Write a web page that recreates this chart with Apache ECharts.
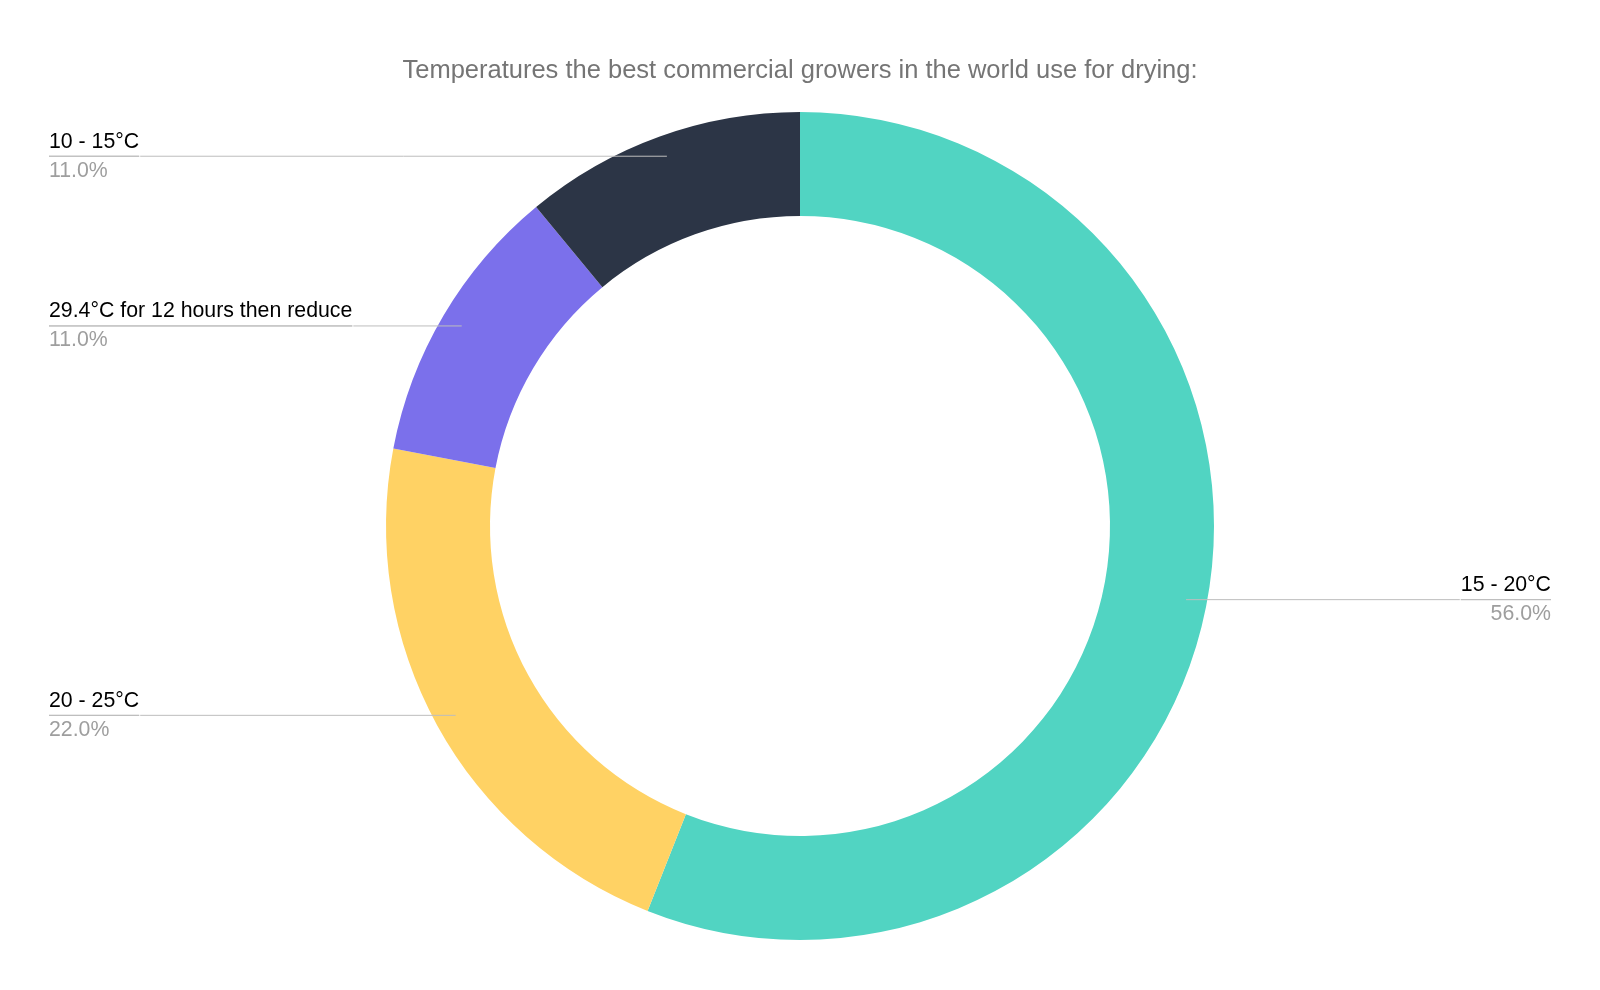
<!DOCTYPE html>
<html>
<head>
<meta charset="utf-8">
<script src="https://cdn.jsdelivr.net/npm/echarts@6/dist/echarts.min.js"></script>
<style>
html,body{margin:0;padding:0;background:#fff;}
#c{width:1600px;height:990px;}
</style>
</head>
<body>
<div id="c"></div>
<script>
const titleText = 'Temperatures the best commercial growers in the world use for drying:';
const categories = ['15 - 20°C', '20 - 25°C', '29.4°C for 12 hours then reduce', '10 - 15°C'];
const values = [56, 22, 11, 11];
const colors = ['#51D4C2', '#FFD264', '#7B70EB', '#2C3546'];

const chart = echarts.init(document.getElementById('c'));
const ringData = categories.map((n, i) => ({ name: n, value: values[i], itemStyle: { color: colors[i] } }));
const labelData = categories.map((n, i) => ({ name: n, value: values[i] }));
const FONT = 'Liberation Sans, Arial, sans-serif';

chart.setOption({
  animation: false,
  title: {
    text: titleText,
    left: 'center',
    top: 53,
    textStyle: { fontFamily: FONT, fontSize: 25.5, fontWeight: 'normal', color: '#757575' }
  },
  series: [
    {
      type: 'pie',
      center: [800, 526],
      radius: [310, 414],
      startAngle: 90,
      clockwise: true,
      silent: true,
      label: { show: false },
      labelLine: { show: false },
      data: ringData
    },
    {
      type: 'pie',
      center: [800, 526],
      radius: [0, 393],
      startAngle: 90,
      clockwise: true,
      silent: true,
      z: 3,
      itemStyle: { color: 'rgba(0,0,0,0)' },
      label: {
        show: true,
        position: 'outer',
        alignTo: 'edge',
        edgeDistance: 49,
        distanceToLabelLine: 0,
        fontFamily: FONT,
        formatter: p => '{name|' + p.name + '}\n{hr|}\n{pct|' + p.percent.toFixed(1) + '%}',
        rich: {
          name: { fontFamily: FONT, fontSize: 21.3, color: '#000000', lineHeight: 29 },
          hr: { borderColor: '#bdbdbd', width: '100%', borderWidth: 1, height: 0, lineHeight: 0 },
          pct: { fontFamily: FONT, fontSize: 21.3, color: '#9e9e9e', lineHeight: 29 }
        }
      },
      labelLine: {
        show: true,
        length: 0,
        length2: 10,
        smooth: false,
        lineStyle: { color: '#bdbdbd', width: 1 }
      },
      data: labelData
    }
  ]
});
</script>
</body>
</html>
